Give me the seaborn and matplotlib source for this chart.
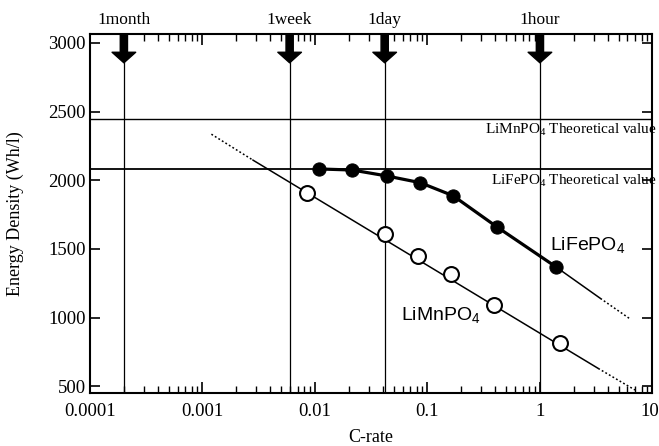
import numpy as np
import pandas as pd
import matplotlib
matplotlib.use('Agg')
import matplotlib.pyplot as plt
import matplotlib.ticker as mticker
import matplotlib.transforms as mtransforms
import seaborn as sns

# measured points (C-rate, Wh/l)
c_fe = [0.0109, 0.0215, 0.0435, 0.0863, 0.169, 0.416, 1.38]
e_fe = [2082, 2074, 2031, 1982, 1887, 1659, 1370]
c_mn = [0.0085, 0.0417, 0.0828, 0.161, 0.391, 1.52]
e_mn = [1905, 1608, 1450, 1316, 1093, 816]

# trend lines
fe_fit_c = [1.38, 3.45]
fe_fit_e = [1370, 1139]
fe_ext_c = [3.45, 6.4]
fe_ext_e = [1139, 987]
mn_fit_c = [0.0028, 3.3]
mn_fit_e = [2147, 629]
mn_ext_lo_c = [0.0012, 0.0028]
mn_ext_lo_e = [2335, 2147]
mn_ext_hi_c = [3.3, 7.0]
mn_ext_hi_e = [629, 472]

# theoretical values
fe_theory = 2082
mn_theory = 2445

# time markers
time_c = [0.0002, 1 / 168, 1 / 24, 1.0]
time_labels = ['1month', '1week', '1day', '1hour']

x_ticks = [1e-4, 1e-3, 1e-2, 1e-1, 1, 10]
x_tick_labels = ['0.0001', '0.001', '0.01', '0.1', '1', '10']
y_ticks = [500, 1000, 1500, 2000, 2500, 3000]

sns.set_theme(style='ticks')
plt.rcParams['font.family'] = ['Liberation Serif', 'DejaVu Serif']
plt.rcParams['mathtext.default'] = 'regular'
plt.rcParams['text.color'] = 'black'
plt.rcParams['axes.labelcolor'] = 'black'

fig, ax = plt.subplots(figsize=(6.59, 4.46), dpi=100)
fig.subplots_adjust(left=0.1366, right=0.99, bottom=0.1188, top=0.9238)
ax.set_xscale('log')

# time lines + arrows
for c, lab in zip(time_c, time_labels):
    ax.axvline(c, color='black', lw=0.9, zorder=1)
    ax.annotate('', xy=(c, 2855), xytext=(c, 3065),
                arrowprops=dict(arrowstyle='simple,head_length=0.38,head_width=0.85,tail_width=0.26',
                                fc='black', ec='black', shrinkA=0, shrinkB=0, mutation_scale=20))
    ax.text(c, 1.04, lab, transform=ax.get_xaxis_transform(), ha='center', va='center', fontsize=12.5)

# theoretical lines
ax.axhline(mn_theory, color='black', lw=1.0, zorder=1)
ax.axhline(fe_theory, color='black', lw=1.3, zorder=1)
ax.annotate('LiMnPO$_4$ Theoretical value', xy=(1.008, mn_theory), xycoords=('axes fraction', 'data'),
            xytext=(0, -2), textcoords='offset points', ha='right', va='top', fontsize=11)
ax.annotate('LiFePO$_4$ Theoretical value', xy=(1.008, fe_theory), xycoords=('axes fraction', 'data'),
            xytext=(0, -3), textcoords='offset points', ha='right', va='top', fontsize=11)

# trend lines
dot = (0, (1.2, 1.5))
sns.lineplot(x=mn_fit_c, y=mn_fit_e, color='black', lw=1.1, ax=ax)
sns.lineplot(x=mn_ext_lo_c, y=mn_ext_lo_e, color='black', lw=1.1, linestyle=dot, ax=ax)
sns.lineplot(x=mn_ext_hi_c, y=mn_ext_hi_e, color='black', lw=1.1, linestyle=dot, ax=ax)
sns.lineplot(x=fe_fit_c, y=fe_fit_e, color='black', lw=1.1, ax=ax)
sns.lineplot(x=fe_ext_c, y=fe_ext_e, color='black', lw=1.1, linestyle=dot, ax=ax)

# data
df_fe = pd.DataFrame({'C-rate': c_fe, 'Energy': e_fe})
df_mn = pd.DataFrame({'C-rate': c_mn, 'Energy': e_mn})
sns.lineplot(data=df_fe, x='C-rate', y='Energy', color='black', lw=2.3, marker='o',
             markersize=9.5, markeredgecolor='black', ax=ax, zorder=5)
sns.scatterplot(data=df_mn, x='C-rate', y='Energy', s=115, facecolor='white',
                edgecolor='black', linewidth=1.5, ax=ax, zorder=5)

ax.text(1.23, 1528, 'LiFePO$_4$', family=['Liberation Sans', 'DejaVu Sans'], fontsize=14,
        ha='left', va='center')
ax.text(0.058, 1018, 'LiMnPO$_4$', family=['Liberation Sans', 'DejaVu Sans'], fontsize=14,
        ha='left', va='center')

ax.set_xlim(1e-4, 10)
ax.set_ylim(450, 3065)
ax.set_xticks(x_ticks)
ax.set_xticklabels(x_tick_labels)
ax.xaxis.set_minor_formatter(mticker.NullFormatter())
ax.set_yticks(y_ticks)
ax.set_yticklabels([str(v) for v in y_ticks])
ax.tick_params(which='both', direction='in', top=True, right=True, colors='black', labelsize=13.5)
ax.tick_params(axis='x', which='major', length=8, width=1.2, pad=7)
ax.tick_params(axis='x', which='minor', length=5, width=1.0)
ax.tick_params(axis='y', which='major', length=7, width=1.2, pad=3)
for s in ax.spines.values():
    s.set_color('black')
    s.set_linewidth(1.5)

# keep the "10" label inside the figure
last = ax.get_xticklabels()[-1]
last.set_horizontalalignment('right')
last.set_transform(last.get_transform() + mtransforms.ScaledTranslation(5 / 72, 0, fig.dpi_scale_trans))

ax.set_xlabel('C-rate', fontsize=13, labelpad=7)
ax.set_ylabel('Energy Density (Wh/l)', fontsize=13)
ax.yaxis.set_label_coords(-0.118, 0.5)

fig.savefig('out.png', dpi=100)
